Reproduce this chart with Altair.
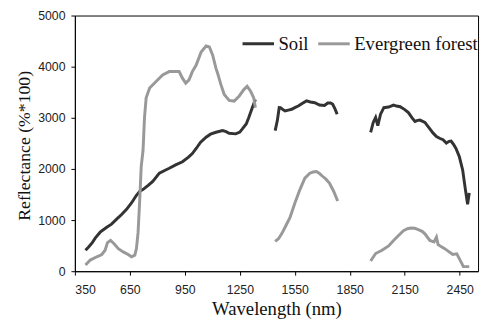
import altair as alt
import pandas as pd

# ---- data ----
soil_wl_1 = [408, 425, 445, 461, 488, 524, 550, 578, 605, 632, 660, 685, 704, 721, 750, 775, 811, 840, 865, 900, 937, 970, 991, 1012, 1035, 1066, 1090, 1120, 1156, 1175, 1192, 1228, 1250, 1264, 1285, 1299, 1318, 1335]
soil_val_1 = [410, 475, 560, 648, 763, 860, 920, 1019, 1110, 1211, 1340, 1480, 1563, 1596, 1680, 1756, 1917, 1970, 2013, 2080, 2141, 2230, 2301, 2400, 2520, 2621, 2680, 2717, 2750, 2730, 2698, 2686, 2720, 2782, 2880, 3006, 3198, 3359]

soil_wl_2 = [1443, 1455, 1465, 1472, 1485, 1497, 1515, 1533, 1550, 1569, 1590, 1614, 1635, 1659, 1685, 1712, 1730, 1745, 1757, 1770, 1781]
soil_val_2 = [2750, 2950, 3200, 3198, 3160, 3134, 3150, 3167, 3200, 3231, 3280, 3330, 3310, 3295, 3250, 3240, 3290, 3290, 3263, 3170, 3071]

soil_wl_3 = [1964, 1978, 1991, 2003, 2018, 2036, 2062, 2089, 2105, 2125, 2150, 2170, 2190, 2206, 2220, 2233, 2260, 2287, 2305, 2323, 2340, 2359, 2377, 2392, 2403, 2418, 2430, 2448, 2466, 2481, 2493, 2502]
soil_val_3 = [2717, 2910, 3006, 2846, 3071, 3198, 3211, 3250, 3230, 3217, 3160, 3102, 3000, 2929, 2950, 2955, 2910, 2782, 2700, 2635, 2600, 2571, 2506, 2540, 2544, 2470, 2398, 2237, 1981, 1596, 1308, 1532]

forest_wl_1 = [408, 434, 470, 497, 515, 528, 545, 564, 587, 614, 641, 659, 677, 686, 695, 704, 712, 722, 730, 739, 758, 793, 829, 865, 892, 919, 937, 955, 973, 991, 1012, 1039, 1066, 1084, 1102, 1120, 1129, 1147, 1165, 1192, 1219, 1246, 1272, 1290, 1309, 1326, 1335]
forest_val_1 = [122, 218, 282, 327, 410, 558, 602, 538, 442, 378, 327, 282, 314, 442, 763, 1404, 2044, 2365, 3006, 3390, 3583, 3711, 3840, 3904, 3904, 3904, 3775, 3679, 3743, 3904, 4032, 4288, 4404, 4384, 4224, 3967, 3871, 3648, 3456, 3340, 3327, 3423, 3552, 3615, 3519, 3390, 3198]

forest_wl_2 = [1443, 1461, 1480, 1497, 1524, 1551, 1578, 1605, 1632, 1650, 1668, 1685, 1703, 1720, 1739, 1762, 1784]
forest_val_2 = [583, 635, 740, 860, 1052, 1340, 1596, 1821, 1917, 1940, 1949, 1910, 1852, 1800, 1725, 1564, 1372]

forest_wl_3 = [1964, 1991, 2026, 2062, 2089, 2116, 2143, 2165, 2183, 2205, 2224, 2245, 2260, 2287, 2310, 2323, 2332, 2368, 2412, 2434, 2452, 2470, 2484, 2502]
forest_val_3 = [199, 346, 410, 494, 602, 698, 794, 830, 846, 840, 814, 780, 731, 602, 571, 667, 519, 442, 327, 340, 218, 90, 90, 90]

series_names = ["Soil", "Evergreen forest"]
series_colors = ["#333333", "#999999"]
x_ticks = [350, 650, 950, 1250, 1550, 1850, 2150, 2450]
y_ticks = [0, 1000, 2000, 3000, 4000, 5000]

rows = []
segments = [
    ("Soil", "s1", soil_wl_1, soil_val_1),
    ("Soil", "s2", soil_wl_2, soil_val_2),
    ("Soil", "s3", soil_wl_3, soil_val_3),
    ("Evergreen forest", "f1", forest_wl_1, forest_val_1),
    ("Evergreen forest", "f2", forest_wl_2, forest_val_2),
    ("Evergreen forest", "f3", forest_wl_3, forest_val_3),
]
for name, seg, wls, vals in segments:
    for i, (w, v) in enumerate(zip(wls, vals)):
        rows.append({"wl": w, "val": v, "series": name, "seg": seg, "order": i})
df = pd.DataFrame(rows)

axis_style = dict(
    grid=False, domainColor="black", tickColor="black", tickSize=4,
    labelFont="Liberation Sans", labelFontSize=12.5, labelColor="#222",
    titleFont="Liberation Serif", titleFontWeight="normal",
    titleColor="#111", format="d",
)

chart = alt.Chart(df).mark_line(strokeWidth=3).encode(
    x=alt.X("wl:Q", title="Wavelength (nm)",
            scale=alt.Scale(domain=[350, 2550], nice=False, zero=False),
            axis=alt.Axis(values=x_ticks, titleY=44, titleBaseline="alphabetic",
                          titleFontSize=19, labelPadding=9, **axis_style)),
    y=alt.Y("val:Q", title="Reflectance (%*100)",
            scale=alt.Scale(domain=[0, 5000], nice=False),
            axis=alt.Axis(values=y_ticks, titleX=-51, titleY=132, titleAngle=270,
                          titleAlign="center", titleBaseline="middle",
                          titleFontSize=18, labelPadding=6, **axis_style)),
    color=alt.Color("series:N", scale=alt.Scale(domain=series_names, range=series_colors),
                    legend=alt.Legend(title=None, orient="none", legendX=169, legendY=11,
                                      direction="horizontal", symbolType="stroke",
                                      symbolSize=1024, symbolStrokeWidth=3,
                                      labelFont="Liberation Serif", labelFontSize=19,
                                      labelColor="#111", labelOffset=3, columnPadding=3,
                                      padding=0)),
    detail="seg:N",
    order="order:Q",
).properties(
    width=410, height=260,
    autosize=alt.AutoSizeParams(type="none"),
    padding={"left": 68, "top": 5, "right": 3, "bottom": 50},
).configure_view(
    stroke="black", strokeWidth=1
)

chart.save("out.html", embed_options={"renderer": "svg", "actions": False})
